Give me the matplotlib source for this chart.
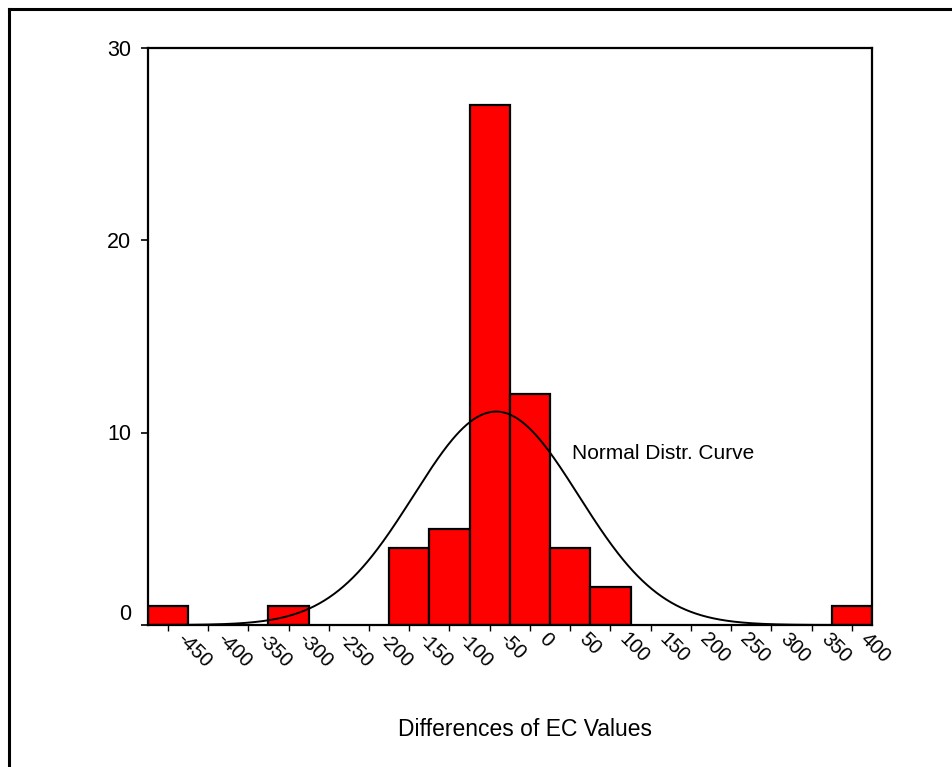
import matplotlib
matplotlib.use("Agg")
import matplotlib.pyplot as plt
import matplotlib.transforms as mtransforms
from matplotlib.lines import Line2D
import numpy as np

# histogram bins (centres, width 50) and counts
bin_centers = [-450, -400, -350, -300, -250, -200, -150, -100, -50,
               0, 50, 100, 150, 200, 250, 300, 350, 400]
counts = [1, 0, 0, 1, 0, 0, 4, 5, 27, 12, 4, 2, 0, 0, 0, 0, 0, 1]
tick_labels = ["-450", "-400", "-350", "-300", "-250", "-200", "-150", "-100",
               "-50", "0", "50", "100", "150", "200", "250", "300", "350", "400"]
bin_width = 50
y_ticks = [0, 10, 20, 30]

plt.rcParams['font.family'] = ['Liberation Sans', 'DejaVu Sans']

fig = plt.figure(figsize=(9.53, 7.67), dpi=100)
ax = fig.add_axes([147.7 / 953, 1 - 625 / 767, (872 - 147.7) / 953, (625 - 47.5) / 767])

x = np.array(bin_centers, dtype=float)
c = np.array(counts, dtype=float)
nz = c > 0
ax.bar(x[nz], c[nz], width=bin_width, color="#ff0000", edgecolor="black",
       linewidth=1.6, zorder=2)

# normal curve fitted to the binned values
n = c.sum()
mean = (x * c).sum() / n
sd = np.sqrt(((x - mean) ** 2 * c).sum() / (n - 1))
xs = np.linspace(-475, 425, 600)
ys = n * bin_width / (sd * np.sqrt(2 * np.pi)) * np.exp(-0.5 * ((xs - mean) / sd) ** 2)
ax.plot(xs, ys, color="black", linewidth=1.4, zorder=3)
ax.text(52, 8.9, "Normal Distr. Curve", fontsize=15, va="center", ha="left")

ax.set_xlim(-475, 425)
ax.set_ylim(0, 30)
ax.set_yticks(y_ticks)
ax.set_yticklabels([str(v) for v in y_ticks], fontsize=15.5)
ax.tick_params(axis="y", direction="out", length=5, width=1.2, pad=7)
ax.set_xticks(bin_centers)
ax.set_xticklabels(tick_labels, fontsize=14.5, rotation=-45, ha="left",
                   va="center", rotation_mode="anchor")
ax.tick_params(axis="x", direction="out", length=4, width=1.0, pad=4)
offset = mtransforms.ScaledTranslation(0.12, 0, fig.dpi_scale_trans)
for lab in ax.get_xticklabels():
    lab.set_transform(lab.get_transform() + offset)
ax.get_yticklabels()[0].set_va("bottom")

for sp in ax.spines.values():
    sp.set_linewidth(1.6)
    sp.set_color("black")

fig.text(525 / 953, 1 - 730 / 767, "Differences of EC Values", fontsize=16.5,
         ha="center", va="center")

# outer frame (top and left edges visible)
fig.add_artist(Line2D([9 / 953, 9 / 953], [0, 1 - 9 / 767], color="black",
                      linewidth=2.2, transform=fig.transFigure))
fig.add_artist(Line2D([9 / 953, 1], [1 - 9 / 767, 1 - 9 / 767], color="black",
                      linewidth=2.2, transform=fig.transFigure))

fig.savefig("out.png", dpi=100, facecolor="white")
